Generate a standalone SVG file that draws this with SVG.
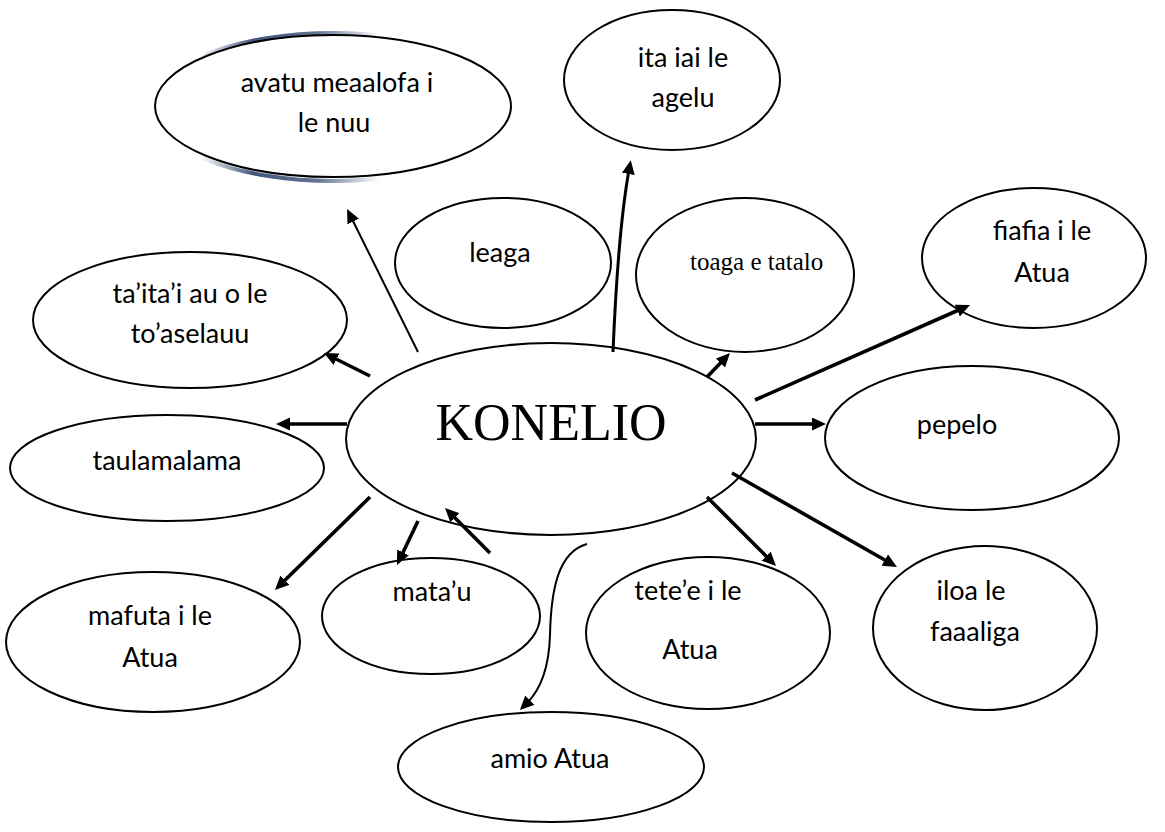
<svg xmlns="http://www.w3.org/2000/svg" width="1165" height="832" viewBox="0 0 1165 832">
<style>
.node ellipse{fill:#fff;stroke:#000;stroke-width:2}
.t{font-family:Lato,"Liberation Sans",sans-serif;font-size:27px;fill:#000;text-anchor:middle}
.s{font-family:"Liberation Serif","Times New Roman",serif;fill:#000}
.thick{stroke:#000;stroke-width:3.6;fill:none}
.thin{stroke:#000;stroke-width:2;fill:none}
</style>
<defs>
<marker id="ah" markerUnits="userSpaceOnUse" markerWidth="16" markerHeight="14" refX="4" refY="6.5" orient="auto">
<path d="M0,0 L14,6.5 L0,13 z" fill="#000"/>
</marker>
<linearGradient id="sg" gradientUnits="userSpaceOnUse" x1="200" y1="0" x2="380" y2="0">
<stop offset="0" stop-color="#1f3864" stop-opacity="0"/>
<stop offset="0.3" stop-color="#1f3864" stop-opacity="0.85"/>
<stop offset="0.65" stop-color="#1f3864" stop-opacity="0.7"/>
<stop offset="1" stop-color="#1f3864" stop-opacity="0"/>
</linearGradient>
</defs>
<rect width="1165" height="832" fill="#fff"/>

<g id="n-avatu" class="node">
<ellipse cx="333" cy="107" rx="180" ry="74" fill="none" style="stroke:url(#sg);stroke-width:4"/>
<ellipse cx="333" cy="106" rx="178" ry="71"/>
<text class="t" x="337" y="92">avatu meaalofa i</text>
<text class="t" x="334" y="132">le nuu</text>
</g>

<g id="n-ita" class="node">
<ellipse cx="672" cy="80" rx="108" ry="70"/>
<text class="t" x="683" y="67">ita iai le</text>
<text class="t" x="683" y="107">agelu</text>
</g>

<g id="n-leaga" class="node">
<ellipse cx="503" cy="263" rx="108" ry="65"/>
<text class="t" x="500" y="262">leaga</text>
</g>

<g id="n-toaga" class="node">
<ellipse cx="745" cy="275" rx="109" ry="77"/>
<text class="s" x="690" y="270" font-size="25">toaga e tatalo</text>
</g>

<g id="n-fiafia" class="node">
<ellipse cx="1034" cy="258" rx="112" ry="70"/>
<text class="t" x="1042" y="240">fiafia i le</text>
<text class="t" x="1042" y="282">Atua</text>
</g>

<g id="n-taitai" class="node">
<ellipse cx="190" cy="320" rx="157" ry="68"/>
<text class="t" x="190" y="303">ta’ita’i au o le</text>
<text class="t" x="190" y="343">to’aselauu</text>
</g>

<g id="n-konelio" class="node">
<ellipse cx="551" cy="439" rx="205" ry="96"/>
<text class="s" x="551" y="440" font-size="52" text-anchor="middle">KONELIO</text>
</g>

<g id="n-taulamalama" class="node">
<ellipse cx="167" cy="468" rx="157" ry="53"/>
<text class="t" x="167" y="470">taulamalama</text>
</g>

<g id="n-pepelo" class="node">
<ellipse cx="972" cy="438" rx="147" ry="72"/>
<text class="t" x="957" y="434">pepelo</text>
</g>

<g id="n-mafuta" class="node">
<ellipse cx="153" cy="642" rx="147" ry="70"/>
<text class="t" x="150" y="625">mafuta i le</text>
<text class="t" x="150" y="667">Atua</text>
</g>

<g id="n-matau" class="node">
<ellipse cx="431" cy="616" rx="109" ry="58"/>
<text class="t" x="432" y="601">mata’u</text>
</g>

<g id="n-tetee" class="node">
<ellipse cx="708" cy="633" rx="122" ry="76"/>
<text class="t" x="688" y="600">tete’e i le</text>
<text class="t" x="690" y="659">Atua</text>
</g>

<g id="n-iloa" class="node">
<ellipse cx="985" cy="628" rx="112" ry="82"/>
<text class="t" x="971" y="600">iloa le</text>
<text class="t" x="975" y="641">faaaliga</text>
</g>

<g id="n-amio" class="node">
<ellipse cx="551" cy="767" rx="153" ry="55"/>
<text class="t" x="550" y="768">amio Atua</text>
</g>

<g id="connectors">
<path class="thin" d="M418,352 L351.5,218" marker-end="url(#ah)"/>
<path class="thick" d="M370,376 L333,357.5" marker-end="url(#ah)"/>
<path class="thick" d="M347,424 L286,424" marker-end="url(#ah)"/>
<path class="thick" d="M370,497 L282.1,583" marker-end="url(#ah)"/>
<path class="thick" d="M418,521 L401.3,556" marker-end="url(#ah)"/>
<path class="thick" d="M490,553 L452.1,515.1" marker-end="url(#ah)"/>
<path class="thick" style="stroke-width:3" d="M613,352 C616,280 620,220 629,170" marker-end="url(#ah)"/>
<path class="thick" d="M707,377 L723.1,360.2" marker-end="url(#ah)"/>
<path class="thick" d="M755,400 L960.9,309" marker-end="url(#ah)"/>
<path class="thick" d="M755,424 L816,424" marker-end="url(#ah)"/>
<path class="thick" d="M732,473 L888.3,562" marker-end="url(#ah)"/>
<path class="thick" d="M707,497 L768.9,558.9" marker-end="url(#ah)"/>
<path class="thin" d="M587,544 C558,552 551,590 550,635 C549,670 540,690 527,703" marker-end="url(#ah)"/>
</g>
</svg>
